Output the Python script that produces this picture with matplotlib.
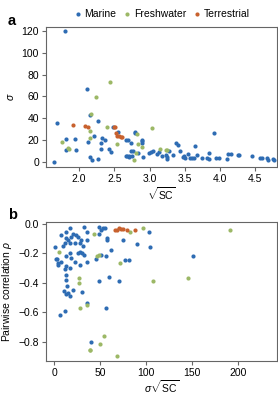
import matplotlib
matplotlib.use("Agg")
import matplotlib.pyplot as plt
import numpy as np

plt.rcParams['font.family'] = ['Liberation Sans', 'DejaVu Sans']
plt.rcParams['mathtext.fontset'] = 'custom'
plt.rcParams['mathtext.rm'] = 'Liberation Sans'
plt.rcParams['mathtext.it'] = 'Liberation Sans:italic'

categories = ["Marine", "Freshwater", "Terrestrial"]
colors = {"Marine": "#2e6cb3", "Freshwater": "#9cb866", "Terrestrial": "#c8612e"}

# Panel a: sqrt(SC) vs sigma
a_marine_x = [1.65, 1.69, 1.80, 1.81, 1.82, 1.94, 1.95, 2.11, 2.12, 2.15, 2.16, 2.18, 2.21, 2.27, 2.27,
              2.31, 2.31, 2.33, 2.37, 2.43, 2.46, 2.48, 2.55, 2.66, 2.68, 2.71, 2.67, 2.70, 2.73, 2.71,
              2.75, 2.74, 2.77, 2.79, 2.80, 2.83, 2.89, 2.90, 2.90, 2.91, 2.99, 3.02, 3.05, 3.10, 3.13,
              3.18, 3.23, 3.25, 3.25, 3.27, 3.33, 3.37, 3.41, 3.43, 3.47, 3.49, 3.51, 3.55, 3.57, 3.61,
              3.63, 3.64, 3.67, 3.74, 3.81, 3.84, 3.85, 3.92, 3.95, 3.98, 4.10, 4.12, 4.15, 4.25, 4.27,
              4.45, 4.57, 4.59, 4.67, 4.68, 4.76, 4.77]
a_marine_y = [0, 36, 120, 21, 11, 21, 11, 67, 18, 43, 4, 1, 24, 37.5, 2,
              17, 12, 22, 20, 12, 9, 32, 27, 5, 5, 5, 20, 20, 17, 4.3,
              5, 10, 10, 27, 26.5, 8, 19.7, 18.5, 17, 4.3, 8, 9, 10, 7, 9,
              5, 6, 4, 2, 10, 6.5, 17.5, 15, 10, 4, 5.5, 3, 7, 3, 3,
              3, 14.5, 6, 3.7, 3, 2.5, 8.3, 26, 3.4, 3.4, 2, 7, 7, 6, 6,
              5, 3, 3, 3, 1, 2.5, 1]
a_fresh_x = [1.76, 1.84, 1.86, 2.15, 2.15, 2.17, 2.24, 2.40, 2.44, 2.54, 2.78, 2.81, 2.82, 2.84, 2.90,
             3.04, 3.15, 3.23, 3.25]
a_fresh_y = [18, 12.5, 12, 28, 22, 44, 59.6, 32, 73, 16.6, 1.5, 8, 25, 16.6, 13.5,
             30.8, 11.7, 11, 11]
a_terr_x = [1.92, 2.08, 2.13, 2.49, 2.51, 2.52, 2.54, 2.57, 2.59, 2.61]
a_terr_y = [34, 33, 32, 32, 32, 26.5, 24, 23.7, 22.8, 23]

# Panel b: sigma*sqrt(SC) vs pairwise correlation
b_marine_x = [1, 3, 4, 7.2, 13.3, 17.7, 13.3, 15, 18.8, 20.6, 23.4, 26, 29.6, 32.5, 35.7, 35.7,
              9.7, 11.5, 17, 22.4, 27.8, 31, 26, 27.8, 30.7, 33, 17, 18.8, 13.3, 2.5, 8, 13.3,
              17, 22.4, 27.8, 35.7, 4.3, 11.5, 12.6, 12.6, 49, 51, 53, 55, 49, 57, 58, 46, 51,
              56, 62, 76.5, 81, 74.7, 90, 103, 104, 150.4, 60,
              14, 13.4, 15, 17, 10.5, 20.6, 30, 6, 12, 35.7, 49, 71, 56.7, 40]
b_marine_y = [-0.16, -0.24, -0.27, -0.08, -0.06, -0.03, -0.10, -0.11, -0.09, -0.07, -0.08, -0.09,
              -0.11, -0.02, -0.06, -0.11, -0.15, -0.13, -0.13, -0.13, -0.13, -0.15, -0.20, -0.19,
              -0.20, -0.21, -0.20, -0.23, -0.22, -0.24, -0.26, -0.29, -0.30, -0.26, -0.28, -0.26,
              -0.28, -0.31, -0.35, -0.38, -0.07, -0.045, -0.03, -0.03, -0.02, -0.10, -0.11, -0.24,
              -0.21, -0.22, -0.18, -0.25, -0.25, -0.11, -0.14, -0.06, -0.16, -0.22, -0.36,
              -0.42, -0.48, -0.47, -0.49, -0.46, -0.45, -0.465, -0.62, -0.59, -0.54, -0.39, -0.39,
              -0.57, -0.80]
b_fresh_x = [5.4, 43, 47, 48.7, 72, 82, 97, 191, 145, 107, 26.7, 27, 27.8, 35.7, 39, 39.5, 49.5, 54, 68]
b_fresh_y = [-0.19, -0.07, -0.22, -0.215, -0.27, -0.06, -0.03, -0.04, -0.37, -0.39, -0.37, -0.40,
             -0.575, -0.555, -0.855, -0.86, -0.82, -0.765, -0.90]
b_terr_x = [65.7, 68, 71, 73, 75, 79, 88]
b_terr_y = [-0.04, -0.04, -0.03, -0.035, -0.036, -0.045, -0.04]

W, H = 278, 395
fig = plt.figure(figsize=(W / 100, H / 100), dpi=100)

def pos(l, t, r, b):
    return [l / W, 1 - b / H, (r - l) / W, (b - t) / H]

axa = fig.add_axes(pos(46, 27, 277, 167))
axb = fig.add_axes(pos(46, 222, 277, 361))

S = 9
FS = 7.5
spine_c = '#666666'

def style(ax):
    for s in ax.spines.values():
        s.set_color(spine_c)
        s.set_linewidth(0.8)
    ax.tick_params(axis='both', labelsize=FS, color=spine_c, length=3, width=0.8, pad=2)
    ax.tick_params(top=False, right=False)

data_a = [(a_marine_x, a_marine_y), (a_fresh_x, a_fresh_y), (a_terr_x, a_terr_y)]
data_b = [(b_marine_x, b_marine_y), (b_fresh_x, b_fresh_y), (b_terr_x, b_terr_y)]

for cat, (x, y) in zip(categories, data_a):
    axa.scatter(x, y, s=S, color=colors[cat], label=cat, linewidths=0, zorder=3)
for cat, (x, y) in zip(categories, data_b):
    axb.scatter(x, y, s=S, color=colors[cat], linewidths=0, zorder=3)

axa.set_xlim(1.53, 4.81)
axa.set_ylim(-5, 124)
axa.set_xticks([2.0, 2.5, 3.0, 3.5, 4.0, 4.5])
axa.set_yticks([0, 20, 40, 60, 80, 100, 120])
axa.set_xlabel(r'$\sqrt{\mathrm{SC}}$', fontsize=FS, labelpad=1)
axa.set_ylabel(r'$\sigma$', fontsize=FS, labelpad=4)
style(axa)

axb.set_xlim(-8.7, 242)
axb.set_ylim(-0.932, 0.011)
axb.set_xticks([0, 50, 100, 150, 200])
axb.set_yticks([0.0, -0.2, -0.4, -0.6, -0.8])
axb.set_yticklabels(['0.0', '\u22120.2', '\u22120.4', '\u22120.6', '\u22120.8'])
axb.set_xlabel(r'$\sigma\sqrt{\mathrm{SC}}$', fontsize=FS, labelpad=0)
axb.set_ylabel(r'Pairwise correlation $\rho$', fontsize=FS, labelpad=3)
style(axb)

leg = axa.legend(loc='lower center', bbox_to_anchor=(0.5, 1.03), ncol=3, frameon=False,
                 fontsize=FS, handletextpad=0.2, columnspacing=0.6, markerscale=1.0,
                 borderaxespad=0.3, handlelength=0.9, borderpad=0.1)

fig.text(8 / W, 1 - 25 / H, 'a', fontsize=10.5, fontweight='bold', va='baseline')
fig.text(8 / W, 1 - 219 / H, 'b', fontsize=10.5, fontweight='bold', va='baseline')

fig.savefig('out.png', dpi=100)
